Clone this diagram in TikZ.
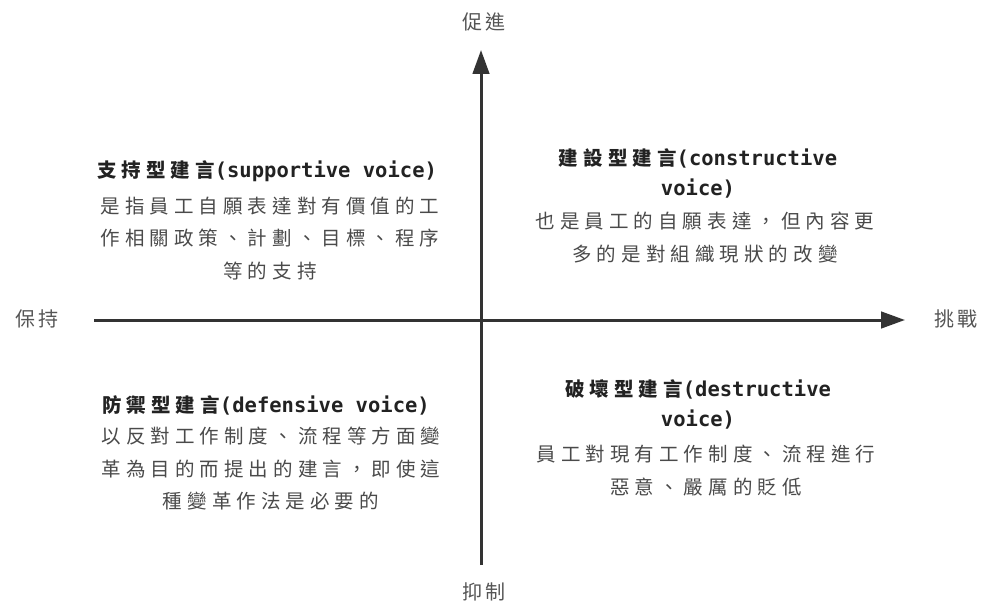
\documentclass[tikz,border=0pt]{standalone}
\usepackage{fontspec}
\usetikzlibrary{arrows.meta}
\newfontfamily\cjk[LetterSpace=26]{Noto Sans CJK TC}
\newfontfamily\cjkax[LetterSpace=18]{Noto Sans CJK TC}
\newfontfamily\lat{DejaVu Sans Mono}
\definecolor{axiscol}{HTML}{333333}
\definecolor{titlecol}{HTML}{222222}
\definecolor{bodycol}{HTML}{4A4A4A}
\definecolor{labcol}{HTML}{555555}
\tikzset{
  axisline/.style={draw=axiscol, line width=3bp, -{Triangle[length=24bp,width=16.5bp]}},
  axislab/.style={text=labcol, font=\fontsize{20bp}{22bp}\selectfont\cjkax},
  qtitle/.style={text=titlecol, align=center, inner sep=0pt, font=\fontsize{19.5bp}{30bp}\selectfont},
  qbody/.style={text=bodycol, align=center, inner sep=0pt, font=\fontsize{19.5bp}{32.5bp}\selectfont\cjk},
}
\newcommand{\latb}[1]{{\fontsize{20.5bp}{30bp}\selectfont\lat\bfseries #1}}
\newcommand{\qt}[2]{{\cjk\bfseries #1}\latb{#2}}
\begin{document}
\begin{tikzpicture}[x=1bp,y=-1bp]
\useasboundingbox (0,0) rectangle (981,605);
% axis ends
\coordinate (left) at (94,320);
\coordinate (right) at (905,320);
\coordinate (bottom) at (481,565);
\coordinate (top) at (481,50);
\draw[axisline] (left) -- (right);
\draw[axisline] (bottom) -- (top);
% axis labels
\node[axislab] (lpro) at (484,22) {促進};
\node[axislab] (lkeep) at (37,319) {保持};
\node[axislab] (lchal) at (956,319) {挑戰};
\node[axislab] (lsup) at (484,592) {抑制};
% quadrant 1 (top-left)
\node[qtitle] (t1) at (267,171) {\qt{支持型建言}{(supportive voice)}};
\node[qbody] (b1) at (270,238.5) {是指員工自願表達對有價值的工\\作相關政策、計劃、目標、程序\\等的支持};
% quadrant 2 (top-right)
\node[qtitle] (t2) at (698,173) {\qt{建設型建言}{(constructive}\\\latb{voice)}};
\node[qbody] (b2) at (705,237.5) {也是員工的自願表達，但內容更\\多的是對組織現狀的改變};
% quadrant 3 (bottom-left)
\node[qtitle] (t3) at (266,405) {\qt{防禦型建言}{(defensive voice)}};
\node[qbody] (b3) at (271,469) {以反對工作制度、流程等方面變\\革為目的而提出的建言，即使這\\種變革作法是必要的};
% quadrant 4 (bottom-right)
\node[qtitle] (t4) at (698,404) {\qt{破壞型建言}{(destructive}\\\latb{voice)}};
\node[qbody] (b4) at (706,470.5) {員工對現有工作制度、流程進行\\惡意、嚴厲的貶低};
\end{tikzpicture}
\end{document}
